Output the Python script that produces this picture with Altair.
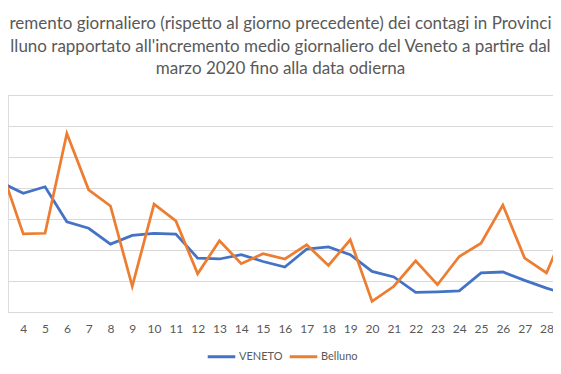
import altair as alt
import pandas as pd

# Day of March 2020 (the reference is cropped: day 3 and day 29 are just outside the visible area)
days = list(range(3, 30))
# Daily increment, in units of the (unlabelled) gridlines
veneto = [4.17, 3.83, 4.04, 2.91, 2.70, 2.19, 2.47, 2.54, 2.51, 1.74, 1.71, 1.85, 1.63,
          1.45, 2.03, 2.10, 1.85, 1.31, 1.13, 0.63, 0.65, 0.68, 1.26, 1.29, 1.02, 0.77, 0.55]
belluno = [4.58, 2.52, 2.54, 5.76, 3.94, 3.42, 0.83, 3.48, 2.94, 1.23, 2.30, 1.56, 1.88,
           1.71, 2.17, 1.50, 2.33, 0.34, 0.83, 1.65, 0.88, 1.79, 2.22, 3.45, 1.74, 1.26, 2.90]
series_names = ["VENETO", "Belluno"]
series_colors = ["#4472C4", "#ED7D31"]
tick_days = list(range(3, 29))
grid_values = list(range(0, 8))
title_lines = [
    "remento giornaliero  (rispetto al giorno precedente) dei contagi in Provinci",
    "lluno rapportato all'incremento medio giornaliero del Veneto a partire dal",
    "marzo 2020 fino alla data odierna",
]

df = pd.DataFrame({
    "giorno": days + days,
    "valore": veneto + belluno,
    "serie": [series_names[0]] * len(days) + [series_names[1]] * len(days),
})

text_color = "#595959"

chart = alt.Chart(df).mark_line(strokeWidth=2.75, clip=True).encode(
    x=alt.X(
        "giorno:Q",
        scale=alt.Scale(domain=[3.3, 28.3], nice=False, zero=False),
        axis=alt.Axis(values=tick_days, title=None, ticks=False, domain=False, grid=False,
                      labelPadding=11, labelColor=text_color, labelFont="Lato",
                      labelFontSize=12, labelFlush=False, labelOverlap=False),
    ),
    y=alt.Y(
        "valore:Q",
        scale=alt.Scale(domain=[0, 7], nice=False),
        axis=alt.Axis(values=grid_values, labels=False, ticks=False, domain=False,
                      title=None, grid=True, gridColor="#d9d9d9", gridWidth=1),
    ),
    color=alt.Color(
        "serie:N",
        scale=alt.Scale(domain=series_names, range=series_colors),
        legend=alt.Legend(title=None, orient="none", legendX=198, legendY=246,
                          direction="horizontal", symbolType="stroke", symbolSize=760,
                          symbolStrokeWidth=3, labelFont="Lato", labelFontSize=11,
                          labelColor=text_color, labelOffset=2, columnPadding=0),
    ),
    detail="serie:N",
).properties(
    width=545,
    height=217,
    autosize=alt.AutoSizeParams(type="none"),
    padding={"left": 0, "right": 0, "top": 87, "bottom": 54},
    title=alt.TitleParams(text=title_lines, font="Lato", fontSize=17, fontWeight="normal",
                          color=text_color, lineHeight=22.5, anchor="middle", offset=17),
).configure_view(stroke=None).configure(background="white")

chart.save("out.html", embed_options={"renderer": "svg", "actions": False})
